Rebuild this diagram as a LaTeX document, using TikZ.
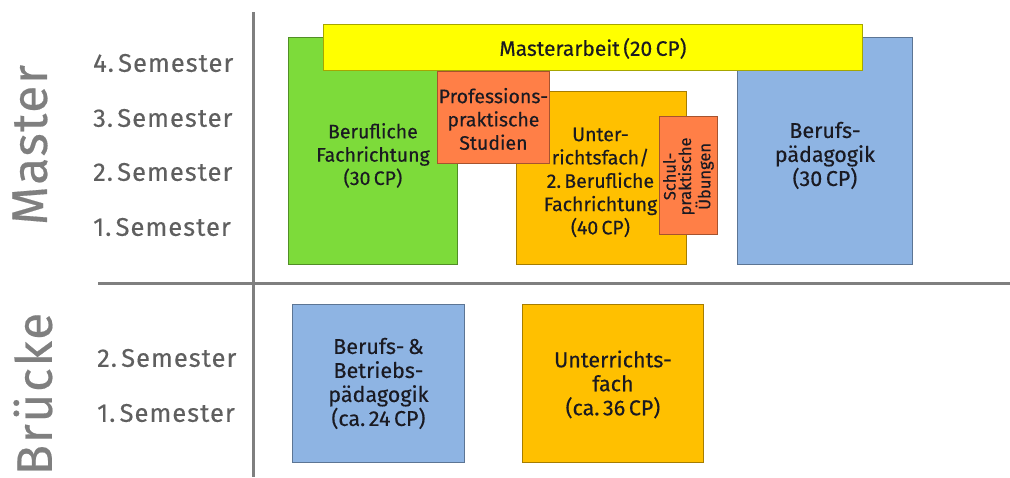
\documentclass[tikz,border=0pt]{standalone}
\usepackage{fontspec}
\setmainfont{Fira Sans}[FakeBold=0.35]
\definecolor{cgreen}{HTML}{7DDB3A}
\definecolor{cyellow}{HTML}{FFFF00}
\definecolor{corange}{HTML}{FF7F47}
\definecolor{cgold}{HTML}{FFC000}
\definecolor{cblue}{HTML}{8EB4E3}
\definecolor{cline}{HTML}{7F7F7F}
\definecolor{csem}{HTML}{5F5F5F}
\definecolor{ctext}{HTML}{1A1A22}
\begin{document}
\begin{tikzpicture}[x=1pt,y=-1pt,
  box/.style={draw=#1!65!black, fill=#1, line width=0.9pt, anchor=north west, inner sep=0pt},
  btext/.style={align=center, text=ctext, inner sep=0pt, font=\fontsize{19.5}{23.3}\selectfont},
  bigtext/.style={btext, font=\fontsize{21.5}{24}\selectfont},
  semlabel/.style={text=csem, font=\fontsize{25.5}{28}\selectfont\addfontfeatures{LetterSpace=4}, anchor=west, inner sep=0pt},
  phase/.style={text=cline, font=\fontsize{50}{52}\selectfont\addfontfeatures{LetterSpace=3}, rotate=90, inner sep=0pt},
  sep/.style={draw=cline, line width=3pt}]
\useasboundingbox (0,0) rectangle (1010,477);
% separators
\coordinate (vt) at (253,12);
\coordinate (vb) at (253,477);
\coordinate (hl) at (98,283);
\coordinate (hr) at (1010,283);
\draw[sep] (vt) -- (vb);
\draw[sep] (hl) -- (hr);
% phase labels
\node[phase] (master) at (30,145) {Master};
\node[phase] (bruecke) at (33,394) {Brücke};
% semester labels
\node[semlabel] (s4) at (93,63) {4.\,Semester};
\node[semlabel] (s3) at (93,118) {3.\,Semester};
\node[semlabel] (s2) at (93,172) {2.\,Semester};
\node[semlabel] (s1) at (93,227) {1.\,Semester};
\node[semlabel] (b2) at (97,358) {2.\,Semester};
\node[semlabel] (b1) at (97,413) {1.\,Semester};
% master boxes
\node[box=cgreen, minimum width=169pt, minimum height=227pt] (bf) at (288,37) {};
\node[btext] (bft) at ([yshift=-4.5pt]bf.center) {Berufliche\\Fachrichtung\\(30\,CP)};
\node[box=cblue, minimum width=175pt, minimum height=227pt] (bp) at (737,37) {};
\node[bigtext] (bpt) at ([yshift=-4.5pt]bp.center) {Berufs-\\pädagogik\\(30\,CP)};
\node[box=cgold, minimum width=170pt, minimum height=173pt] (uf) at (516,91) {};
\node[btext] (uft) at ([yshift=-4.5pt,xshift=-1pt]uf.center)
  {Unter-\\richtsfach/\\2.\,Berufliche\\Fachrichtung\\(40\,CP)};
\node[box=cyellow, minimum width=539pt, minimum height=46pt] (ma) at (323,24) {};
\node[btext, font=\fontsize{21}{24}\selectfont] (mat) at ([yshift=-1pt]ma.center) {Masterarbeit\,(20\,CP)};
\node[box=corange, minimum width=112pt, minimum height=92pt] (ps) at (437,71) {};
\node[btext] (pst) at ([yshift=-1.5pt]ps.center) {Professions-\\praktische\\Studien};
\node[box=corange, minimum width=58pt, minimum height=118pt] (su) at (659,116) {};
\node[rotate=90, align=center, text=ctext, inner sep=0pt, font=\fontsize{16.5}{15.5}\selectfont] (sut) at ([yshift=-1pt]su.center)
  {Schul-\\praktische\\Übungen};
% bridge boxes
\node[box=cblue, minimum width=172pt, minimum height=158pt] (bb) at (292,304) {};
\node[bigtext] (bbt) at (bb.center) {Berufs-\,\&\\Betriebs-\\pädagogik\\(ca.\,24\,CP)};
\node[box=cgold, minimum width=181pt, minimum height=158pt] (bu) at (522,304) {};
\node[bigtext] (but) at ([yshift=-1pt]bu.center) {Unterrichts-\\fach\\(ca.\,36\,CP)};
\end{tikzpicture}
\end{document}
